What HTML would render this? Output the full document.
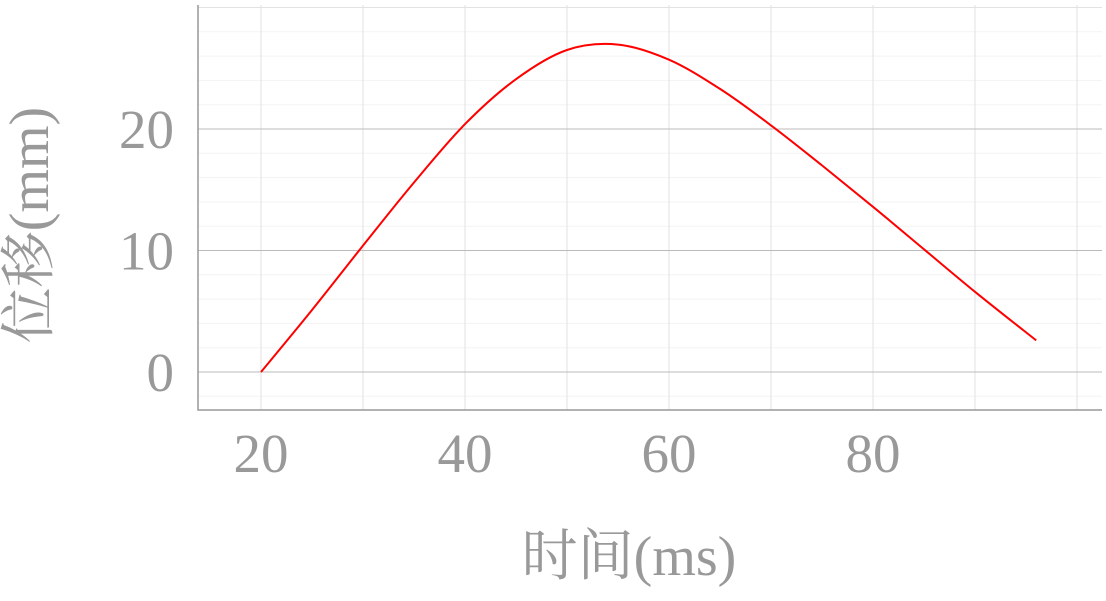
<!DOCTYPE html>
<html><head><meta charset="utf-8"><style>
body{margin:0;background:#fff;width:1106px;height:596px;overflow:hidden}
text{font-family:"Liberation Serif","Noto Serif CJK SC",serif;fill:#999}
</style></head><body>
<svg id="chart" width="1106" height="596" xmlns="http://www.w3.org/2000/svg"></svg>
<script>
const xs=[20,25,30,35,40,45,50,55,60,65,70,75,80,85,90,96];
const ys=[0,5.1,10.4,15.6,20.4,24.1,26.5,26.95,25.7,23.3,20.3,17.0,13.6,10.1,6.6,2.6];
const xTicks=[20,40,60,80];
const yTicks=[0,10,20];
const L=198,R=1102,T=5,B=410;
const sx=v=>261+(v-20)*10.2, sy=v=>372-v*12.15;
const svg=document.getElementById('chart');
const NS='http://www.w3.org/2000/svg';
function mk(t,a){const e=document.createElementNS(NS,t);for(const k in a)e.setAttribute(k,a[k]);svg.appendChild(e);return e;}
for(let v=-2;v<=30;v+=2){if(v%10===0)continue;const g=mk('line',{x1:L,x2:R,y1:sy(v),y2:sy(v),stroke:'#f3f3f3','stroke-width':1});

}
for(let v=20;v<=100;v+=10){const g=mk('line',{x1:sx(v),x2:sx(v),y1:T,y2:B,stroke:'#e2e2e2','stroke-width':1});

}
const topLine=mk('line',{x1:L,x2:R,y1:sy(30),y2:sy(30),stroke:'#e2e2e2'});


yTicks.forEach(v=>{const g=mk('line',{x1:L,x2:R,y1:sy(v),y2:sy(v),stroke:'#bbb','stroke-width':1});


const t=mk('text',{x:174,y:sy(v)+19,'font-size':55,'text-anchor':'end'});t.textContent=v;

});
xTicks.forEach(v=>{const t=mk('text',{x:sx(v),y:472,'font-size':55,'text-anchor':'middle'});t.textContent=v;

});
const ax=mk('path',{d:`M${L} ${T}V${B}H${R}`,stroke:'#999',fill:'none','stroke-width':1.5});


const P=xs.map((x,i)=>[sx(x),sy(ys[i])]);
let d='M'+P[0][0]+' '+P[0][1];
for(let i=0;i<P.length-1;i++){const p0=P[Math.max(i-1,0)],p1=P[i],p2=P[i+1],p3=P[Math.min(i+2,P.length-1)];
const c1=[p1[0]+(p2[0]-p0[0])/6,p1[1]+(p2[1]-p0[1])/6],c2=[p2[0]-(p3[0]-p1[0])/6,p2[1]-(p3[1]-p1[1])/6];
d+=`C${c1[0].toFixed(1)} ${c1[1].toFixed(1)} ${c2[0].toFixed(1)} ${c2[1].toFixed(1)} ${p2[0].toFixed(1)} ${p2[1].toFixed(1)}`;}
const ln=mk('path',{d:d,stroke:'#f00',fill:'none','stroke-width':2,'stroke-linejoin':'round'});


const xt=mk('text',{x:629,y:575,'font-size':56,'text-anchor':'middle'});xt.textContent='时间(ms)';


const yt=mk('text',{x:0,y:0,'font-size':56,'text-anchor':'middle',transform:'translate(48,225) rotate(-90)'});yt.textContent='位移(mm)';


</script>
</body></html>
